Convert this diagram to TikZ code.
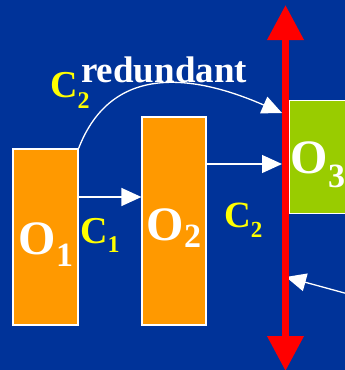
\documentclass[tikz,border=0pt]{standalone}
\usepackage{fontspec}
\setmainfont{Liberation Serif}
\usetikzlibrary{arrows.meta}
\definecolor{bgblue}{HTML}{003399}
\definecolor{oorange}{HTML}{FF9900}
\definecolor{ogreen}{HTML}{99CC00}
\definecolor{cyel}{HTML}{FFFF00}
\tikzset{
  obox/.style={draw=white, line width=1.2pt, inner sep=0pt},
  warrow/.style={draw=white, line width=1.3pt, -{Triangle[length=20pt,width=18pt]}},
  redarrow/.style={draw=red, line width=7pt, {Triangle[length=35pt,width=35pt]}-{Triangle[length=35pt,width=35pt]}},
  olabel/.style={anchor=base west, inner sep=0pt, text=white, font=\bfseries},
  clabel/.style={anchor=base west, inner sep=0pt, text=cyel, font=\bfseries},
}
\newcommand{\bigsym}[5]{{\fontsize{#1}{#1}\selectfont #2}{\fontsize{#3}{#3}\selectfont\raisebox{-#4pt}{#5}}}
\begin{document}
\begin{tikzpicture}[x=1pt,y=-1pt]
\fill[bgblue] (0,0) rectangle (345,370);
\useasboundingbox (0,0) rectangle (345,370);
\clip (0,0) rectangle (345,370);
% boxes
\node[obox, fill=oorange, minimum width=65pt, minimum height=176pt] (o1) at (45.5,237) {};
\node[obox, fill=oorange, minimum width=64pt, minimum height=208pt] (o2) at (174,221) {};
\node[obox, fill=ogreen, minimum width=70pt, minimum height=113pt, anchor=north west] (o3) at (289,100) {};
% labels
\node[olabel] (lo1) at (18.5,254) {\bigsym{48}{O}{34}{12}{1}};
\node[olabel] (lo2) at (146.5,240) {\bigsym{48}{O}{34}{7}{2}};
\node[olabel] (lo3) at (290.5,173) {\bigsym{48}{O}{34}{14}{3}};
\node[clabel] (c1) at (80,243) {\bigsym{38}{C}{24}{9}{1}};
\node[clabel] (c2b) at (224,227) {\bigsym{37}{C}{23}{10}{2}};
\node[clabel] (c2a) at (50,97) {\bigsym{38}{C}{24}{11}{2}};
\node[olabel, font=\bfseries\fontsize{37}{37}\selectfont] (red) at (81,82) {redundant};
% connectors
\coordinate (t1) at (282,113);
\coordinate (t2) at (282,164);
\coordinate (t4) at (286,277);
\coordinate (s4) at (350,294.5);
\draw[warrow] (o1.east |- 0,197) -- (o2.west |- 0,197);
\draw[warrow] (t2 -| o2.east) -- (t2);
\draw[warrow] (o1.north east) .. controls (112,62) and (195,75) .. (t1);
\draw[warrow] (s4) -- (t4);
% red double arrow
\coordinate (rtop) at (285.5,5);
\coordinate (rbot) at (285.5,371);
\draw[redarrow] (rbot) -- (rtop);
\end{tikzpicture}
\end{document}
